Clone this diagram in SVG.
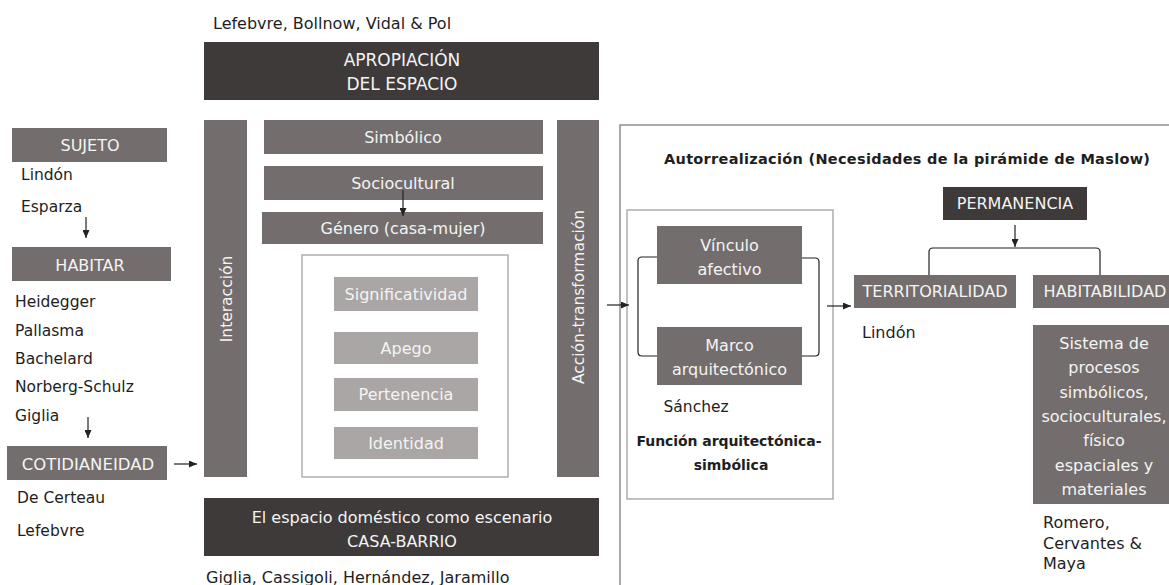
<svg xmlns="http://www.w3.org/2000/svg" width="1169" height="585" viewBox="0 0 1169 585">
<style>
  text { font-family: "DejaVu Sans", "Liberation Sans", sans-serif; }
  .dark { fill: #3e3a39; }
  .mid { fill: #736e6d; }
  .light { fill: #aaa6a5; }
  .frame { fill: none; stroke: #8f8f8f; stroke-width: 1.5; }
  .lbl { fill: #f4f4f4; font-size: 16px; text-anchor: middle; }
  .lbl17 { fill: #f4f4f4; font-size: 17px; text-anchor: middle; }
  .ref { fill: #1e1e1e; font-size: 15.5px; }
  .ref16 { fill: #1e1e1e; font-size: 16px; }
  .bold { fill: #1e1e1e; font-size: 14px; font-weight: bold; }
  .conn { fill: none; stroke: #222; stroke-width: 1.2; }
</style>
<defs>
  <marker id="arr" markerUnits="userSpaceOnUse" markerWidth="8" markerHeight="7" refX="8" refY="3.5" orient="auto">
    <path d="M0,0 L8,3.5 L0,7 z" fill="#222"/>
  </marker>
</defs>

<!-- Top -->
<g id="ref-top"><text class="ref16" x="213" y="29">Lefebvre, Bollnow, Vidal &amp; Pol</text></g>
<g id="apropiacion">
  <rect class="dark" x="204" y="42" width="395" height="58"/>
  <text class="lbl17" x="402" y="66">APROPIACIÓN</text>
  <text class="lbl17" x="402" y="90">DEL ESPACIO</text>
</g>

<!-- Left column -->
<g id="sujeto">
  <rect class="mid" x="12" y="128" width="155" height="34"/>
  <text class="lbl" x="90" y="151">SUJETO</text>
  <text class="ref" x="21" y="180">Lindón</text>
  <text class="ref" x="21" y="211.5">Esparza</text>
</g>
<g id="habitar">
  <rect class="mid" x="12" y="247" width="159" height="34"/>
  <text class="lbl" x="90" y="271">HABITAR</text>
  <text class="ref" x="15" y="307">Heidegger</text>
  <text class="ref" x="15" y="335.5">Pallasma</text>
  <text class="ref" x="15" y="364">Bachelard</text>
  <text class="ref" x="15" y="392">Norberg-Schulz</text>
  <text class="ref" x="15" y="420.5">Giglia</text>
</g>
<g id="cotidianeidad">
  <rect class="mid" x="7" y="446" width="160" height="34"/>
  <text class="lbl" style="font-size:16.5px" x="88" y="469.5">COTIDIANEIDAD</text>
  <text class="ref" x="17" y="502.5">De Certeau</text>
  <text class="ref" x="17" y="536">Lefebvre</text>
</g>

<!-- Central block -->
<g id="interaccion">
  <rect class="mid" x="204" y="120" width="43" height="357"/>
  <text class="lbl" style="font-size:15.5px" transform="translate(231.5,299) rotate(-90)" x="0" y="0">Interacción</text>
</g>
<g id="accion">
  <rect class="mid" x="557" y="120" width="42" height="357"/>
  <text class="lbl" style="font-size:15.5px" transform="translate(583.5,297) rotate(-90)" x="0" y="0">Acción-transformación</text>
</g>
<g id="simbolico">
  <rect class="mid" x="264" y="120" width="279" height="34"/>
  <text class="lbl" x="403" y="143">Simbólico</text>
</g>
<g id="sociocultural">
  <rect class="mid" x="264" y="166" width="279" height="34"/>
  <text class="lbl" x="403" y="189">Sociocultural</text>
</g>
<g id="genero">
  <rect class="mid" x="262" y="212" width="281" height="32"/>
  <text class="lbl" x="403" y="234">Género (casa-mujer)</text>
</g>
<g id="valores">
  <rect x="302" y="255" width="206" height="222" fill="#fff" stroke="#a3a3a3" stroke-width="1.3"/>
  <rect class="light" x="334" y="277" width="144" height="34"/>
  <text class="lbl" x="406" y="300">Significatividad</text>
  <rect class="light" x="334" y="332" width="144" height="32"/>
  <text class="lbl" x="406" y="354">Apego</text>
  <rect class="light" x="334" y="378" width="144" height="33"/>
  <text class="lbl" x="406" y="400">Pertenencia</text>
  <rect class="light" x="334" y="427" width="144" height="32"/>
  <text class="lbl" x="406" y="449">Identidad</text>
</g>
<g id="escenario">
  <rect class="dark" x="204" y="498" width="395" height="58"/>
  <text class="lbl" x="402" y="523">El espacio doméstico como escenario</text>
  <text class="lbl" x="402" y="547">CASA-BARRIO</text>
</g>
<g id="ref-bottom"><text class="ref16" x="206" y="583">Giglia, Cassigoli, Hernández, Jaramillo</text></g>

<!-- Right block -->
<g id="autorrealizacion">
  <rect class="frame" x="620" y="125" width="600" height="500"/>
  <text class="bold" style="font-size:14.5px" x="664" y="164" textLength="486" lengthAdjust="spacing">Autorrealización  (Necesidades  de  la  pirámide  de  Maslow)</text>
</g>
<g id="funcion">
  <rect x="627" y="210" width="206" height="289" fill="none" stroke="#a0a0a0" stroke-width="1.3"/>
  <text class="ref" x="663.5" y="411.5">Sánchez</text>
  <text class="bold" x="636.5" y="446" textLength="185" lengthAdjust="spacing">Función  arquitectónica-</text>
  <text class="bold" x="731" y="469.5" text-anchor="middle">simbólica</text>
</g>
<g id="vinculo">
  <rect class="mid" x="657" y="226" width="145" height="58"/>
  <text class="lbl" x="729.5" y="250.5">Vínculo</text>
  <text class="lbl" x="729.5" y="275">afectivo</text>
</g>
<g id="marco">
  <rect class="mid" x="657" y="327" width="145" height="58"/>
  <text class="lbl" x="729.5" y="350.5">Marco</text>
  <text class="lbl" x="729.5" y="374.5">arquitectónico</text>
</g>
<g id="permanencia">
  <rect class="dark" x="943" y="187" width="144" height="33"/>
  <text class="lbl" x="1015" y="209">PERMANENCIA</text>
</g>
<g id="territorialidad">
  <rect class="mid" x="854" y="275" width="162" height="33"/>
  <text class="lbl" x="935" y="297">TERRITORIALIDAD</text>
  <text class="ref16" x="862" y="338">Lindón</text>
</g>
<g id="habitabilidad">
  <rect class="mid" x="1033" y="275" width="140" height="33"/>
  <text class="lbl" x="1105" y="297">HABITABILIDAD</text>
</g>
<g id="sistema">
  <rect class="mid" x="1033" y="325" width="140" height="179"/>
  <text class="lbl" x="1104" y="348.5">Sistema de</text>
  <text class="lbl" x="1104" y="373">procesos</text>
  <text class="lbl" x="1104" y="397.5">simbólicos,</text>
  <text class="lbl" x="1104" y="421.5">socioculturales,</text>
  <text class="lbl" x="1104" y="446">físico</text>
  <text class="lbl" x="1104" y="470.5">espaciales y</text>
  <text class="lbl" x="1104" y="495">materiales</text>
  <text class="ref16" x="1043" y="528">Romero,</text>
  <text class="ref16" x="1043" y="548.5">Cervantes &amp;</text>
  <text class="ref16" x="1043" y="569">Maya</text>
</g>

<!-- Connectors -->
<g id="connectors">
  <line class="conn" x1="86" y1="217" x2="86" y2="238" marker-end="url(#arr)"/>
  <line class="conn" x1="88" y1="417" x2="88" y2="438" marker-end="url(#arr)"/>
  <line class="conn" x1="174" y1="464" x2="197" y2="464" marker-end="url(#arr)"/>
  <line class="conn" x1="403" y1="190" x2="403" y2="216" marker-end="url(#arr)"/>
  <line class="conn" x1="607" y1="305" x2="629" y2="305" marker-end="url(#arr)"/>
  <line class="conn" x1="827" y1="306" x2="851" y2="306" marker-end="url(#arr)"/>
  <line class="conn" x1="1015" y1="225" x2="1015" y2="247" marker-end="url(#arr)"/>
  <path class="conn" d="M657,257 H642 Q638,257 638,261 V352 Q638,356 642,356 H657"/>
  <path class="conn" d="M802,258 H815 Q819,258 819,262 V352 Q819,356 815,356 H802"/>
  <path class="conn" d="M929,275 V252 Q929,248 933,248 H1096 Q1100,248 1100,252 V275"/>
</g>
</svg>
